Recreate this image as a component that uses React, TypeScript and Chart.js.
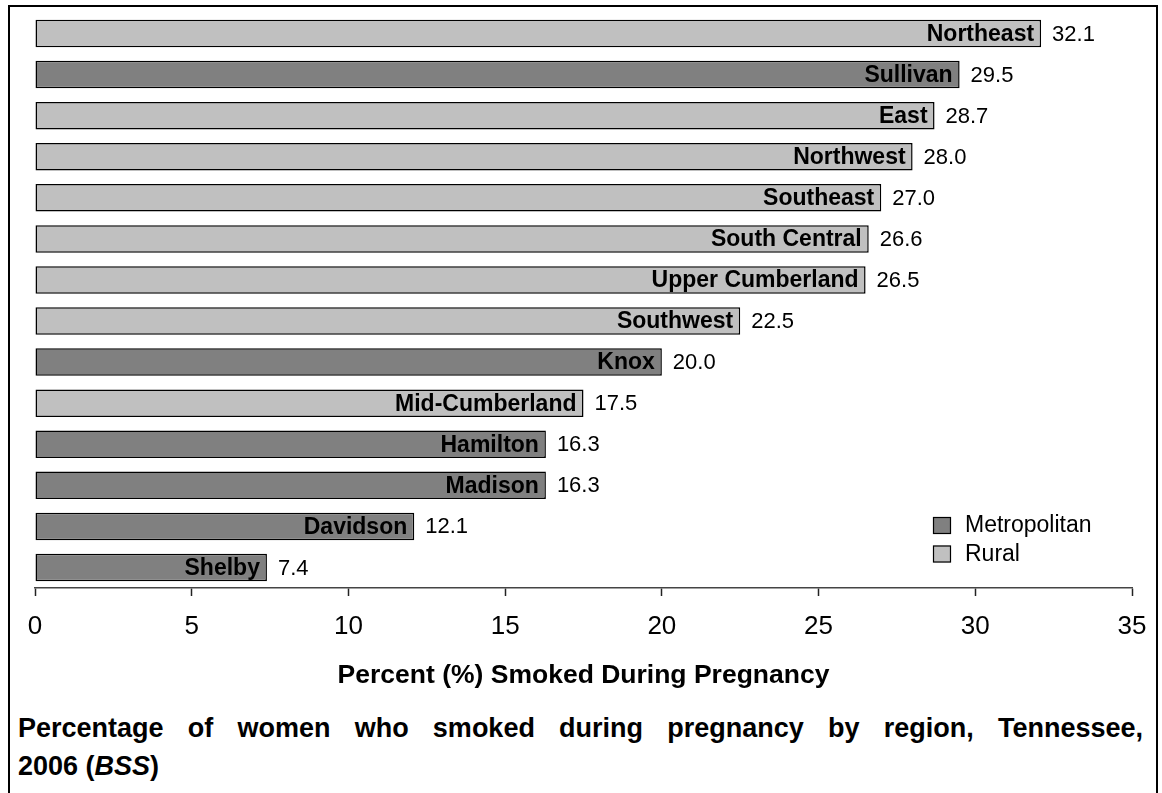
import React, { useEffect, useRef } from "react";
import { Chart, registerables } from "chart.js";

Chart.register(...registerables);

// ---------- DATA ----------
const regions = [
  "Northeast",
  "Sullivan",
  "East",
  "Northwest",
  "Southeast",
  "South Central",
  "Upper Cumberland",
  "Southwest",
  "Knox",
  "Mid-Cumberland",
  "Hamilton",
  "Madison",
  "Davidson",
  "Shelby",
];
const values = [32.1, 29.5, 28.7, 28.0, 27.0, 26.6, 26.5, 22.5, 20.0, 17.5, 16.3, 16.3, 12.1, 7.4];
const regionTypes = [
  "Rural",
  "Metropolitan",
  "Rural",
  "Rural",
  "Rural",
  "Rural",
  "Rural",
  "Rural",
  "Metropolitan",
  "Rural",
  "Metropolitan",
  "Metropolitan",
  "Metropolitan",
  "Metropolitan",
];
const seriesNames = ["Metropolitan", "Rural"];
const seriesColors = ["#808080", "#C0C0C0"];
const xMin = 0;
const xMax = 35;
const xStep = 5;
const xAxisTitle = "Percent (%) Smoked During Pregnancy";
const titleLine1 = "Percentage of women who smoked during pregnancy by region, Tennessee,";
const titleLine2Start = "2006 (";
const titleLine2Italic = "BSS";
const titleLine2End = ")";

const FONT = "'Liberation Sans', Arial, Helvetica, sans-serif";
const W = 1162;
const H = 700;

const labelPlugin = {
  id: "barLabels",
  afterDatasetsDraw(chart: any) {
    const ctx = chart.ctx;
    ctx.save();
    chart.data.datasets.forEach((ds: any, di: number) => {
      const meta = chart.getDatasetMeta(di);
      meta.data.forEach((el: any, i: number) => {
        const v = ds.data[i];
        if (v == null) return;
        const { x, y } = el.getProps(["x", "y"], true);
        ctx.fillStyle = "#000";
        ctx.textBaseline = "middle";
        ctx.font = `bold 23px ${FONT}`;
        ctx.textAlign = "right";
        ctx.fillText(chart.data.labels[i], x - 7, y + 1);
        ctx.font = `22px ${FONT}`;
        ctx.textAlign = "left";
        ctx.fillText(Number(v).toFixed(1), x + 11, y + 1);
      });
    });
    // legend
    chart.data.datasets.forEach((ds: any, k: number) => {
      const bx = 933;
      const by = 517 + k * 28.5;
      ctx.fillStyle = ds.backgroundColor;
      ctx.fillRect(bx, by, 18, 17);
      ctx.strokeStyle = "#000";
      ctx.lineWidth = 1.2;
      ctx.strokeRect(bx + 0.5, by + 0.5, 17, 16);
      ctx.fillStyle = "#000";
      ctx.font = `23px ${FONT}`;
      ctx.textAlign = "left";
      ctx.textBaseline = "middle";
      ctx.fillText(ds.label, 965, by + 9);
    });
    ctx.restore();
  },
};

export default function App() {
  const canvasRef = useRef<HTMLCanvasElement | null>(null);

  useEffect(() => {
    if (!canvasRef.current) return;
    const datasets = seriesNames.map((name, s) => ({
      label: name,
      data: values.map((v, i) => (regionTypes[i] === name ? v : null)),
      backgroundColor: seriesColors[s],
      borderColor: "#000",
      borderWidth: 1.5,
      borderSkipped: false,
      grouped: false,
      barPercentage: 0.67,
      categoryPercentage: 1,
    }));
    const chart = new Chart(canvasRef.current, {
      type: "bar",
      data: { labels: regions, datasets: datasets as any },
      options: {
        indexAxis: "y",
        animation: false,
        responsive: false,
        devicePixelRatio: 1,
        layout: { padding: { left: 35, right: 30, top: 13, bottom: 0 } },
        plugins: {
          legend: { display: false },
          tooltip: { enabled: false },
          title: { display: false },
        },
        scales: {
          y: {
            type: "category",
            display: false,
            offset: true,
          },
          x: {
            type: "linear",
            min: xMin,
            max: xMax,
            afterFit: (scale: any) => {
              scale.height = H - 588;
            },
            ticks: {
              stepSize: xStep,
              autoSkip: false,
              maxRotation: 0,
              padding: 15,
              color: "#000",
              font: { family: FONT, size: 26 },
            },
            grid: {
              drawOnChartArea: false,
              drawTicks: true,
              tickLength: 8,
              tickColor: "#222",
              tickWidth: 1.5,
            },
            border: { display: true, color: "#444", width: 1.5 },
            title: {
              display: true,
              text: xAxisTitle,
              color: "#000",
              font: { family: FONT, size: 26.5, weight: "bold" },
              padding: { top: 0, bottom: 8 },
            },
          },
        },
      } as any,
      plugins: [labelPlugin],
    });
    return () => chart.destroy();
  }, []);

  return (
    <div
      style={{
        position: "absolute",
        left: 0,
        top: 0,
        width: W,
        height: 793,
        overflow: "hidden",
        background: "#fff",
      }}
    >
      <div
        style={{
          position: "absolute",
          left: 8,
          top: 5,
          width: 1150,
          height: 900,
          border: "2px solid #000",
          boxSizing: "border-box",
        }}
      />
      <canvas
        ref={canvasRef}
        width={W}
        height={H}
        style={{ position: "absolute", left: 0, top: 0, display: "block" }}
      />
      <div
        style={{
          position: "absolute",
          left: 18,
          top: 709,
          width: 1125,
          fontFamily: FONT,
          fontWeight: "bold",
          fontSize: 27,
          lineHeight: "38px",
          color: "#000",
        }}
      >
        <div style={{ textAlign: "justify", textAlignLast: "justify" } as any}>{titleLine1}</div>
        <div style={{ textAlign: "left" }}>
          {titleLine2Start}
          <i>{titleLine2Italic}</i>
          {titleLine2End}
        </div>
      </div>
    </div>
  );
}
